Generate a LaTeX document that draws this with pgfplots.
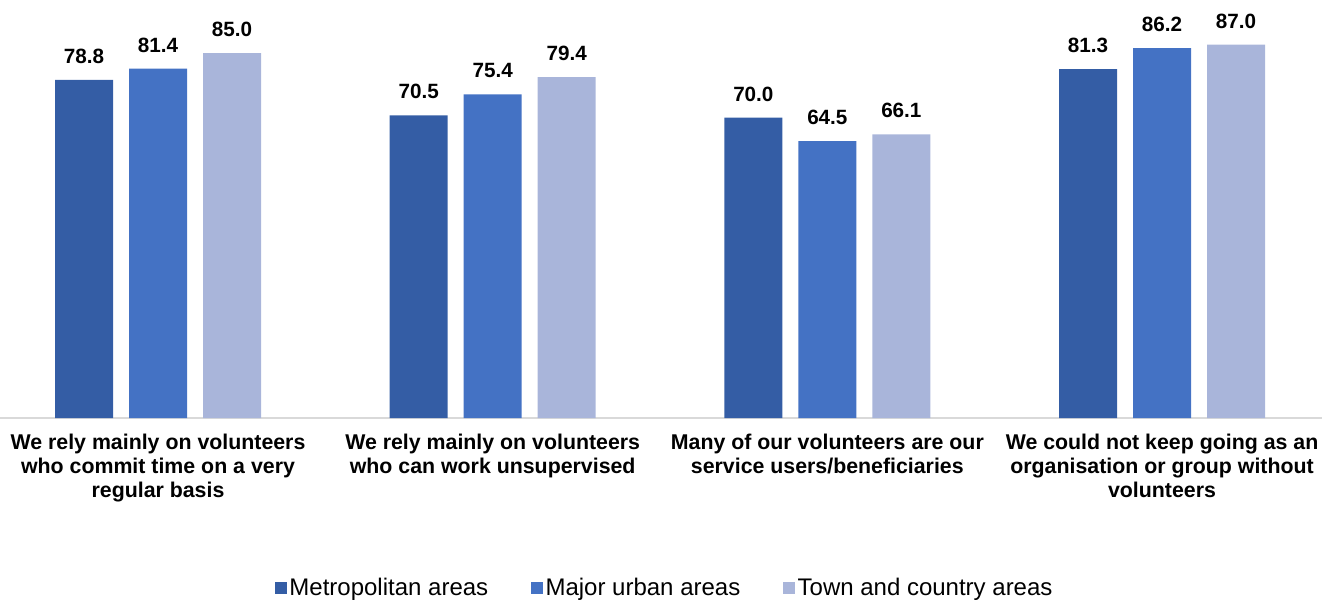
\documentclass[border=0pt]{standalone}
\usepackage{pgfplots}
\pgfplotsset{compat=1.18}
\usepackage{fontspec}
\setmainfont{Liberation Sans}
\definecolor{cA}{RGB}{52,93,165}
\definecolor{cB}{RGB}{68,114,196}
\definecolor{cC}{RGB}{169,181,218}
\definecolor{cGrid}{RGB}{217,217,217}
\begin{document}
\begin{tikzpicture}
\begin{axis}[name=ax, scale only axis, width=991.5pt, height=313.5pt,
  ybar=12pt, bar width=43.5pt,
  xmin=-0.4721, xmax=3.478, ymin=0, ymax=97.4,
  axis y line=none, axis x line*=bottom,
  x axis line style={draw=cGrid, line width=1pt},
  clip=false,
  xtick={0,1,2,3}, xtick style={draw=none},
  xticklabels={{We rely mainly on volunteers\\who commit time on a very\\regular basis},
               {We rely mainly on volunteers\\who can work unsupervised},
               {Many of our volunteers are our\\service users/beneficiaries},
               {We could not keep going as an\\organisation or group without\\volunteers}},
  xticklabel style={font=\bfseries\fontsize{16}{18}\selectfont, align=center, anchor=north, yshift=-4pt},
  nodes near coords,
  nodes near coords style={font=\bfseries\fontsize{15.5}{18}\selectfont, yshift=8.7pt},
  /pgf/number format/.cd, fixed, fixed zerofill, precision=1, assume math mode=true, /pgfplots/.cd,
  legend columns=-1,
  legend style={at={(0.503,-0.4067)}, anchor=center, draw=none, fill=none,
    font=\fontsize{18}{20}\selectfont,
    /tikz/every even column/.append style={column sep=30pt}},
  legend image code/.code={\fill[#1, draw=none] (0pt,-4.5pt) rectangle (9pt,4.5pt);},
]
\addplot[fill=cA, draw=none] coordinates {(0,78.8) (1,70.5) (2,70.0) (3,81.3)};
\addplot[fill=cB, draw=none] coordinates {(0,81.4) (1,75.4) (2,64.5) (3,86.2)};
\addplot[fill=cC, draw=none] coordinates {(0,85.0) (1,79.4) (2,66.1) (3,87.0)};
\legend{Metropolitan areas, Major urban areas, Town and country areas}
\end{axis}
\pgfresetboundingbox
\path[use as bounding box] ([yshift=-135.75pt]ax.south west) rectangle (ax.north east);
\end{tikzpicture}
\end{document}
